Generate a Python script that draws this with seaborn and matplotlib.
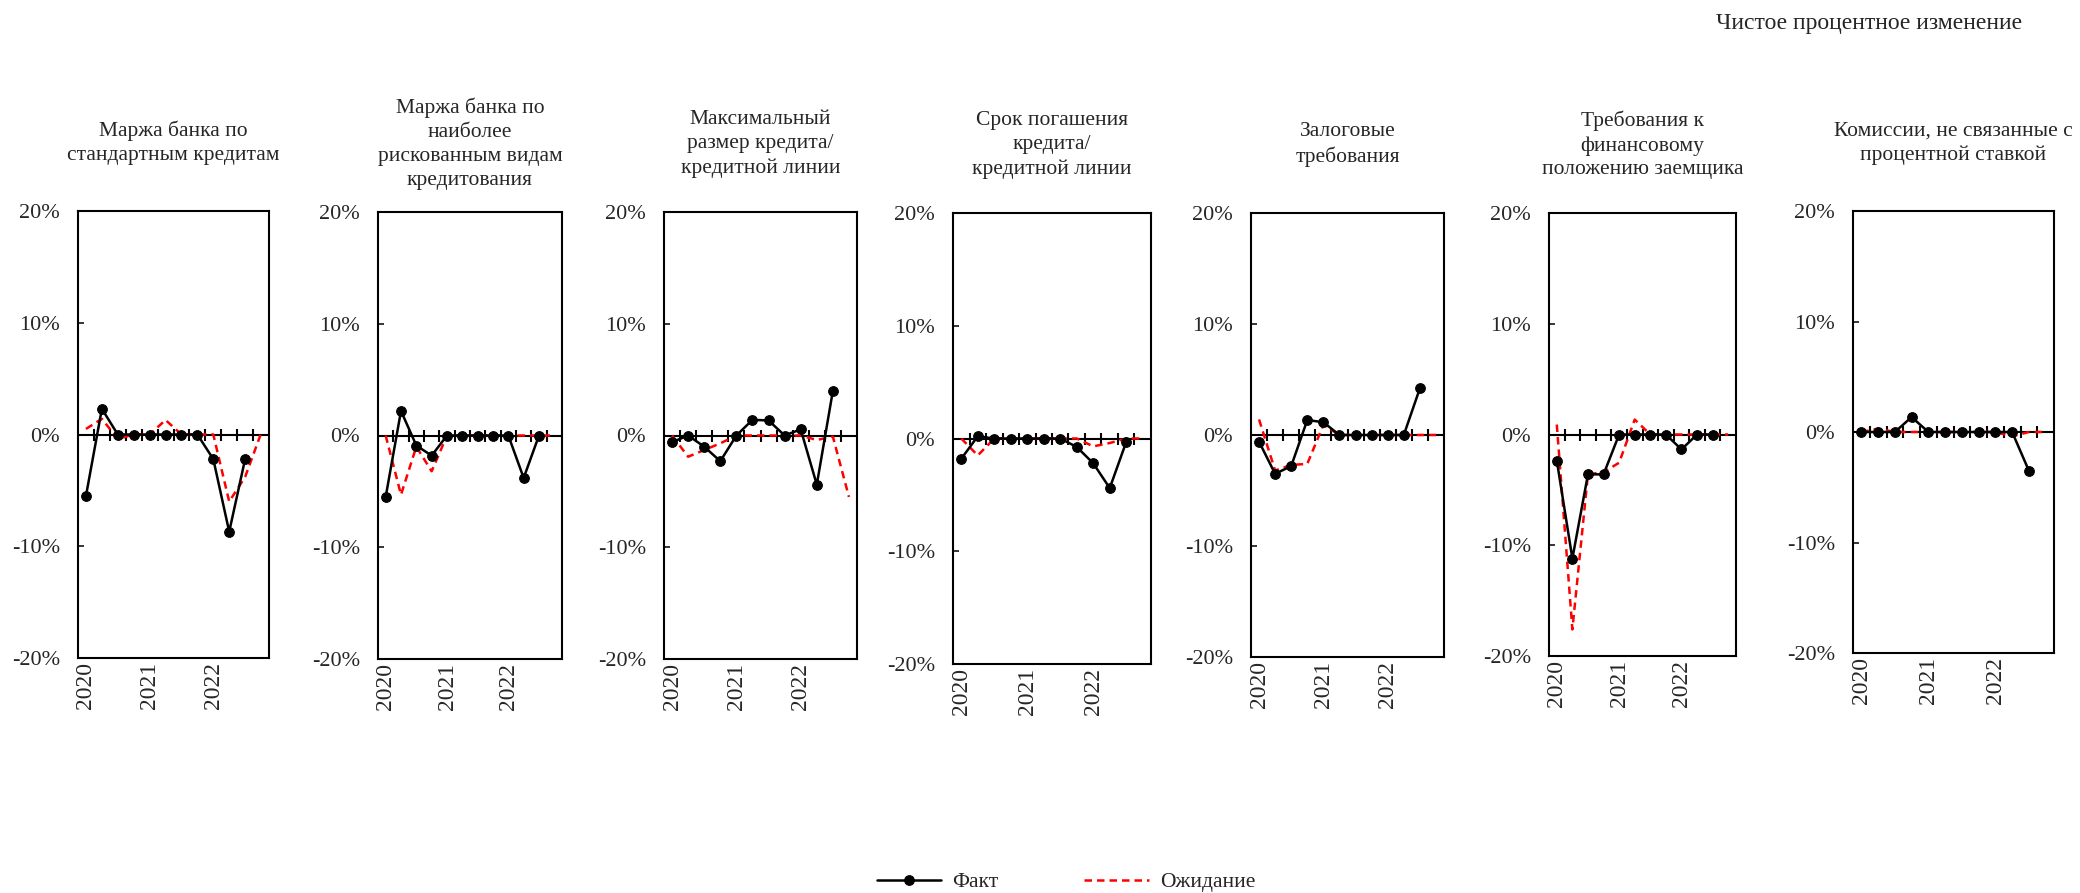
import numpy as np
import pandas as pd
import matplotlib
matplotlib.use("Agg")
import matplotlib.pyplot as plt
from matplotlib.ticker import FuncFormatter, FixedLocator
import seaborn as sns

# Quarterly survey results, 2020Q1 ... 2022Q4 (percent, net change)
quarters = ["2020Q1", "2020Q2", "2020Q3", "2020Q4",
            "2021Q1", "2021Q2", "2021Q3", "2021Q4",
            "2022Q1", "2022Q2", "2022Q3", "2022Q4"]
year_labels = ["2020", "2021", "2022"]

titles = [
    "Маржа банка по\nстандартным кредитам",
    "Маржа банка по\nнаиболее\nрискованным видам\nкредитования",
    "Максимальный\nразмер кредита/\nкредитной линии",
    "Срок погашения\nкредита/\nкредитной линии",
    "Залоговые\nтребования",
    "Требования к\nфинансовому\nположению заемщика",
    "Комиссии, не связанные с\nпроцентной ставкой",
]

# Actual values (11 quarters)
fact_margin_std = [-5.5, 2.3, 0, 0, 0, 0, 0, 0, -2.2, -8.7, -2.2]
fact_margin_risky = [-5.5, 2.2, -0.9, -1.8, 0, 0, 0, 0, 0, -3.8, 0]
fact_max_size = [-0.6, 0, -1.0, -2.3, 0, 1.4, 1.35, 0, 0.55, -4.4, 4.0]
fact_maturity = [-1.8, 0.2, 0, 0, 0, 0, 0, -0.75, -2.2, -4.4, -0.3]
fact_collateral = [-0.6, -3.5, -2.8, 1.35, 1.15, 0, 0, 0, 0, 0, 4.2]
fact_borrower = [-2.35, -11.2, -3.6, -3.6, 0, 0, 0, 0, -1.35, 0, 0]
fact_fees = [0, 0, 0, 1.35, 0, 0, 0, 0, 0, 0, -3.5]

# Expected values (12 quarters)
exp_margin_std = [0.5, 1.4, -0.4, 0, 0, 1.3, 0, 0, 0, -6.0, -3.8, 0.1]
exp_margin_risky = [0, -5.3, -1.0, -3.2, 0, 0, 0, 0, 0, 0, 0, 0]
exp_max_size = [0, -1.9, -1.3, -0.7, 0, 0, 0, 0, 0, -0.4, -0.1, -5.5]
exp_maturity = [0, -1.5, 0, 0, 0, 0, 0, 0, -0.7, -0.4, 0, 0]
exp_collateral = [1.4, -3.2, -2.7, -2.6, 0.9, 0, 0, 0, 0, 0, 0, 0]
exp_borrower = [0.9, -17.6, -3.6, -3.4, -2.55, 1.35, 0, 0, 0, 0, 0, 0]
exp_fees = [0, 0.3, 0, 0, 0, 0, 0, 0, 0, -0.4, 0, 0]

fact_series = [fact_margin_std, fact_margin_risky, fact_max_size, fact_maturity,
               fact_collateral, fact_borrower, fact_fees]
exp_series = [exp_margin_std, exp_margin_risky, exp_max_size, exp_maturity,
              exp_collateral, exp_borrower, exp_fees]

sns.set_style("white")
plt.rcParams["font.family"] = ["Liberation Serif", "DejaVu Serif"]
plt.rcParams["axes.unicode_minus"] = False
plt.rcParams["font.size"] = 15

W, H = 2080, 893
fig = plt.figure(figsize=(W / 100, H / 100), dpi=100)

# panel boxes in pixels: (left, top, right, bottom)
boxes = [
    (78, 211, 269, 658),
    (378, 212, 562, 659),
    (664, 212, 857, 659),
    (953, 213, 1151, 664),
    (1251, 213, 1444, 657),
    (1549, 213, 1736, 656),
    (1853, 211, 2054, 653),
]

pct = FuncFormatter(lambda v, _: f"{v:.0f}%")
n = len(quarters)
boundaries = np.arange(n - 1) + 0.5

for i, (l, t, r, b) in enumerate(boxes):
    ax = fig.add_axes([l / W, 1 - b / H, (r - l) / W, (b - t) / H])

    df_f = pd.DataFrame({"q": np.arange(len(fact_series[i])), "v": fact_series[i]})
    df_e = pd.DataFrame({"q": np.arange(len(exp_series[i])), "v": exp_series[i]})

    # zero line with quarter separators
    ax.axhline(0, color="black", lw=1.5, zorder=1)
    ax.plot(boundaries, np.zeros_like(boundaries), ls="none", marker="|",
            ms=9, mew=1.5, color="black", zorder=1)

    sns.lineplot(data=df_e, x="q", y="v", ax=ax, color="#ff0000", lw=1.8,
                 label="Ожидание", zorder=2)
    ax.lines[-1].set_dashes((3.0, 2.0))
    sns.lineplot(data=df_f, x="q", y="v", ax=ax, color="black", lw=1.8,
                 marker="o", markersize=7, markeredgecolor="black",
                 label="Факт", zorder=3)

    ax.set_xlim(-0.5, n - 0.5)
    ax.set_ylim(-20, 20)
    ax.yaxis.set_major_locator(FixedLocator([-20, -10, 0, 10, 20]))
    ax.yaxis.set_major_formatter(pct)
    ax.set_xticks([0, 4, 8])
    ax.set_xticklabels(year_labels, rotation=90, va="top", ha="center")
    ax.tick_params(axis="x", length=0, pad=3, labelsize=17)
    ax.tick_params(axis="y", direction="in", length=4.5, width=1.3,
                   left=True, pad=13, labelsize=16)
    ax.set_xlabel("")
    ax.set_ylabel("")
    for sp in ax.spines.values():
        sp.set_visible(True)
        sp.set_color("black")
        sp.set_linewidth(1.5)
    ax.grid(False)

    handles, labels = ax.get_legend_handles_labels()
    if ax.get_legend() is not None:
        ax.get_legend().remove()

    ax.annotate(titles[i], xy=(0.5, 1.0), xycoords="axes fraction",
                xytext=(0, 49), textcoords="offset points",
                ha="center", va="center", fontsize=15.5, linespacing=1.35)

# legend: Факт first, then Ожидание
order = [labels.index("Факт"), labels.index("Ожидание")]
fig.legend([handles[k] for k in order], [labels[k] for k in order],
           loc="center", bbox_to_anchor=(1066 / W, 1 - 882 / H), ncol=2,
           frameon=False, fontsize=15.5, handlelength=3.0, columnspacing=4.0,
           handletextpad=0.5)

fig.text(2022 / W, 1 - 23 / H, "Чистое процентное изменение",
         ha="right", va="center", fontsize=17)

fig.savefig("out.png", dpi=100)
